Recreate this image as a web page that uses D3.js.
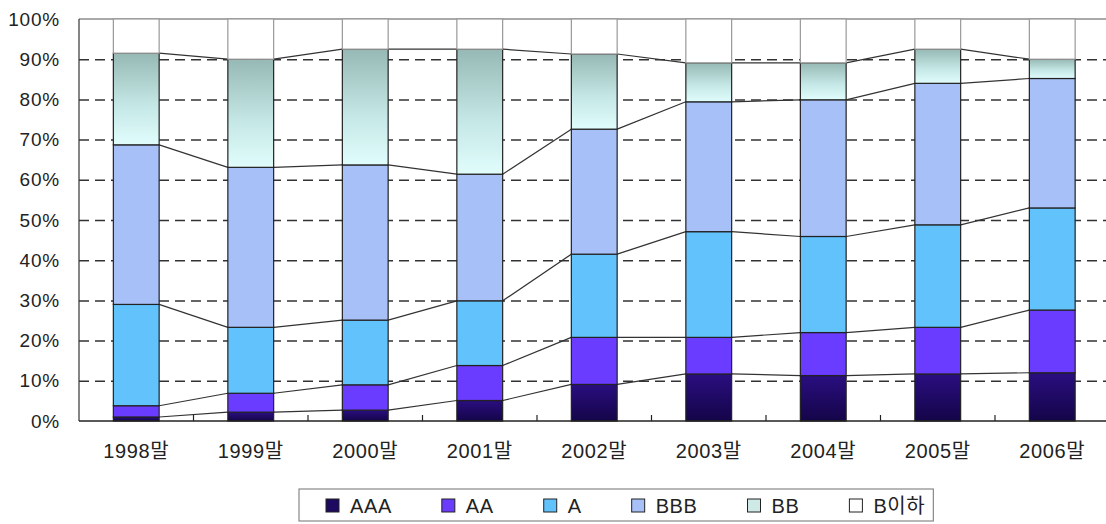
<!DOCTYPE html>
<html>
<head>
<meta charset="utf-8">
<script src="https://cdn.jsdelivr.net/npm/d3@7"></script>
<style>
  body { margin: 0; background: #fff; }
  svg { display: block; }
  text { font-family: "Liberation Sans", "Noto Sans CJK KR", sans-serif; fill: #222; }
</style>
</head>
<body>
<div id="chart"></div>
<script>
// categories and rating shares (%) per year-end
const years = ["1998말", "1999말", "2000말", "2001말", "2002말", "2003말", "2004말", "2005말", "2006말"];
const ratings = ["AAA", "AA", "A", "BBB", "BB", "B이하"];
const AAA = [1.0, 2.2, 2.7, 5.1, 9.1, 11.7, 11.3, 11.7, 12.0];
const AA = [2.8, 4.7, 6.3, 8.7, 11.7, 9.1, 10.7, 11.6, 15.6];
const A = [25.2, 16.4, 16.1, 16.1, 20.7, 26.3, 23.9, 25.5, 25.4];
const BBB = [39.7, 39.8, 38.6, 31.5, 31.1, 32.3, 34.0, 35.2, 32.2];
const BB = [22.8, 26.9, 28.8, 31.1, 18.7, 9.7, 9.2, 8.5, 4.8];
const Bbelow = [8.5, 10.0, 7.5, 7.5, 8.7, 10.9, 10.9, 7.5, 10.0];
const yTicks = [0, 10, 20, 30, 40, 50, 60, 70, 80, 90, 100];

const seriesVals = [AAA, AA, A, BBB, BB, Bbelow];
const rows = years.map((yr, i) => {
  const r = { year: yr };
  ratings.forEach((k, j) => r[k] = seriesVals[j][i]);
  return r;
});

const W = 1106, H = 524;
const mLeft = 79, mRight = 1109.5, mTop = 19, mBottom = 421;

const svg = d3.select("#chart").append("svg")
  .attr("width", W).attr("height", H);

const defs = svg.append("defs");
const gAAA = defs.append("linearGradient").attr("id", "gAAA")
  .attr("x1", 0).attr("y1", 0).attr("x2", 0).attr("y2", 1);
gAAA.append("stop").attr("offset", "0%").attr("stop-color", "#2a0e80");
gAAA.append("stop").attr("offset", "100%").attr("stop-color", "#140548");
const gBB = defs.append("linearGradient").attr("id", "gBB")
  .attr("x1", 0).attr("y1", 0).attr("x2", 0).attr("y2", 1);
gBB.append("stop").attr("offset", "0%").attr("stop-color", "#96b9b5");
gBB.append("stop").attr("offset", "55%").attr("stop-color", "#c3e6e4");
gBB.append("stop").attr("offset", "100%").attr("stop-color", "#e0fdfc");

const fills = {
  "AAA": "url(#gAAA)", "AA": "#6a3cff", "A": "#62c2fb",
  "BBB": "#a7c0f7", "BB": "url(#gBB)", "B이하": "#ffffff"
};
const legendFills = {
  "AAA": "#1d0a60", "AA": "#6a3cff", "A": "#62c2fb",
  "BBB": "#a7c0f7", "BB": "#cfe9e6", "B이하": "#ffffff"
};

const x = d3.scaleBand().domain(years).range([mLeft, mRight])
  .paddingInner(0.6).paddingOuter(0.3);
const y = d3.scaleLinear().domain([0, 100]).range([mBottom, mTop]);

// dashed grid
svg.append("g")
  .attr("transform", `translate(${mLeft},0)`)
  .call(d3.axisLeft(y).tickValues(yTicks.filter(t => t > 0 && t < 100)).tickSize(-(mRight - mLeft)).tickFormat(""))
  .call(g => g.select(".domain").remove())
  .selectAll("line")
  .attr("stroke", "#333").attr("stroke-width", 1.5).attr("stroke-dasharray", "10,6");

// plot frame
svg.append("line").attr("x1", mLeft).attr("x2", mRight).attr("y1", mTop).attr("y2", mTop)
  .attr("stroke", "#555").attr("stroke-width", 1.2);
svg.append("line").attr("x1", mLeft).attr("x2", mLeft).attr("y1", mTop).attr("y2", mBottom)
  .attr("stroke", "#333").attr("stroke-width", 1.2);

const stacked = d3.stack().keys(ratings)(rows);

// series lines between bars
const lineG = svg.append("g");
stacked.slice(0, ratings.length - 1).forEach(s => {
  for (let i = 0; i < s.length - 1; i++) {
    lineG.append("line")
      .attr("x1", x(years[i]) + x.bandwidth())
      .attr("y1", y(s[i][1]))
      .attr("x2", x(years[i + 1]))
      .attr("y2", y(s[i + 1][1]))
      .attr("stroke", "#333").attr("stroke-width", 1.2);
  }
});

// stacked bars
svg.append("g").selectAll("g")
  .data(stacked)
  .join("g")
  .attr("fill", d => fills[d.key])
  .attr("stroke", d => d.key === "B이하" ? "#999" : "#222")
  .attr("stroke-width", 1.2)
  .selectAll("rect")
  .data(d => d)
  .join("rect")
  .attr("x", d => x(d.data.year))
  .attr("width", x.bandwidth())
  .attr("y", d => y(d[1]))
  .attr("height", d => y(d[0]) - y(d[1]));

// y axis labels
svg.append("g")
  .attr("transform", `translate(${mLeft},0)`)
  .call(d3.axisLeft(y).tickValues(yTicks).tickSize(0).tickPadding(19).tickFormat(d => d + "%"))
  .call(g => g.select(".domain").remove())
  .selectAll("text")
  .style("font-size", "19px").style("letter-spacing", "0.8px")
  .attr("fill", "#222");

// x axis
svg.append("g")
  .attr("transform", `translate(0,${mBottom})`)
  .call(d3.axisBottom(x).tickSize(0).tickPadding(23))
  .call(g => g.select(".domain").remove())
  .selectAll("text")
  .style("font-size", "20px").style("letter-spacing", "0.6px")
  .attr("fill", "#222");

svg.append("line").attr("x1", mLeft).attr("x2", mRight).attr("y1", mBottom).attr("y2", mBottom)
  .attr("stroke", "#222").attr("stroke-width", 1.3);
// category separator ticks
svg.append("g").selectAll("line")
  .data(years.slice(1))
  .join("line")
  .attr("x1", d => x(d) - x.step() * x.paddingInner() / 2)
  .attr("x2", d => x(d) - x.step() * x.paddingInner() / 2)
  .attr("y1", mBottom).attr("y2", mBottom - 6)
  .attr("stroke", "#222").attr("stroke-width", 1.2);

// legend
const leg = svg.append("g");
const legBox = leg.append("rect")
  .attr("x", 299).attr("y", 489).attr("height", 32)
  .attr("fill", "#fff").attr("stroke", "#888").attr("stroke-width", 1.2);
let lx = 326;
ratings.forEach(k => {
  leg.append("rect").attr("x", lx).attr("y", 499).attr("width", 13).attr("height", 13)
    .attr("fill", legendFills[k]).attr("stroke", "#222").attr("stroke-width", 1);
  const t = leg.append("text").attr("x", lx + 24).attr("y", 513)
    .style("font-size", "20px").style("letter-spacing", "0.6px").text(k);
  lx += 24 + t.node().getComputedTextLength() + 50;
});
legBox.attr("width", lx - 50 + 8 - 299);
</script>
</body>
</html>
